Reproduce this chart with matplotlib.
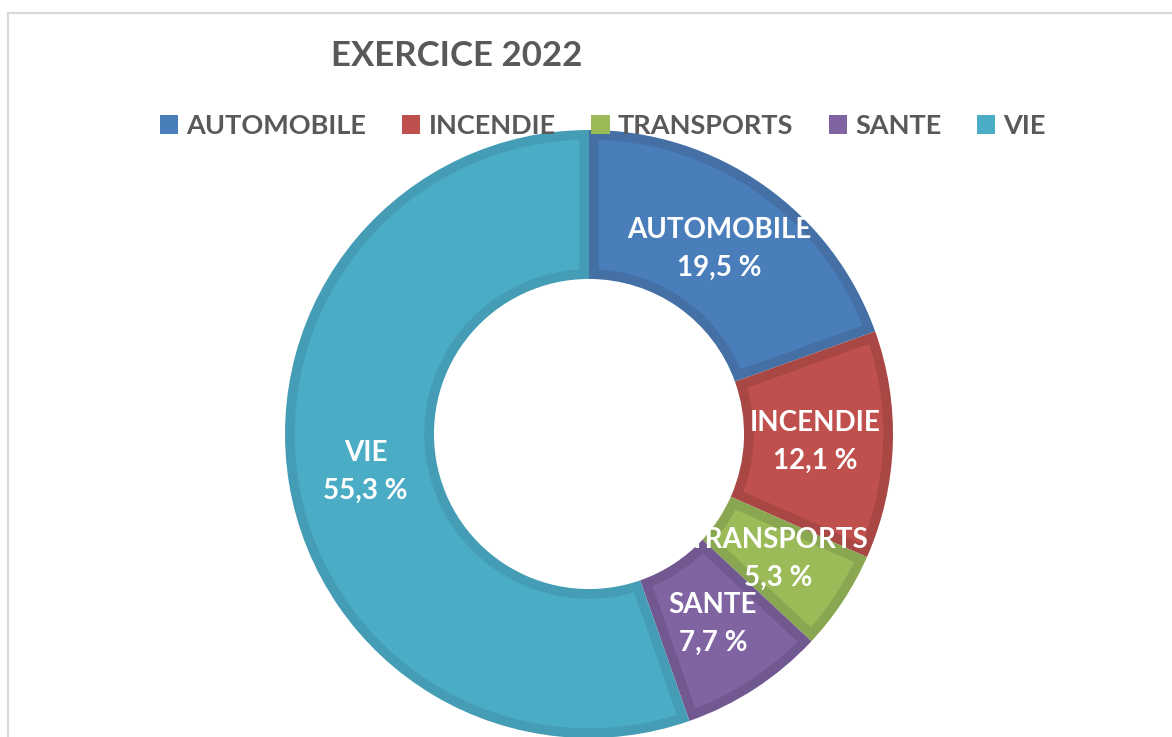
import numpy as np
import matplotlib
matplotlib.use("Agg")
import matplotlib.pyplot as plt
from matplotlib.patches import Rectangle, Patch, Polygon

# donnees
categories = ["AUTOMOBILE", "INCENDIE", "TRANSPORTS", "SANTE", "VIE"]
parts = [19.5, 12.1, 5.3, 7.7, 55.3]
labels_pct = ["19,5 %", "12,1 %", "5,3 %", "7,7 %", "55,3 %"]
faces = ["#4A7EBB", "#C0504D", "#9BBB59", "#8064A2", "#4BACC6"]
edges = ["#4470A6", "#A84744", "#89A650", "#715890", "#459DB5"]

plt.rcParams["font.family"] = ["Lato", "DejaVu Sans"]
W, H = 1172, 737
fig = plt.figure(figsize=(W / 100, H / 100), dpi=100)

# cadre gris clair
fig.patches.append(Rectangle((8 / W, -0.1), 1.2, 1 - 13 / H + 0.1, transform=fig.transFigure,
                             fill=False, edgecolor="#D9D9D9", linewidth=1.6))

cx, cy, R = 589, 434, 304
ring = 0.49
b = 0.032  # epaisseur de la bordure foncee
ax = fig.add_axes([(cx - R) / W, (H - cy - R) / H, 2 * R / W, 2 * R / H])
wedges, _ = ax.pie(parts, startangle=90, counterclock=False, radius=1, colors=edges,
                   wedgeprops=dict(width=ring, linewidth=0))

# partie claire, en retrait de la bordure
ro, ri = 1 - b, 1 - ring + b
for w, fc in zip(wedges, faces):
    t1, t2 = w.theta1, w.theta2
    ao = np.deg2rad(np.linspace(t1 + np.degrees(np.arcsin(b / ro)), t2 - np.degrees(np.arcsin(b / ro)), 120))
    ai = np.deg2rad(np.linspace(t2 - np.degrees(np.arcsin(b / ri)), t1 + np.degrees(np.arcsin(b / ri)), 120))
    pts = np.vstack([np.column_stack([ro * np.cos(ao), ro * np.sin(ao)]),
                     np.column_stack([ri * np.cos(ai), ri * np.sin(ai)])])
    ax.add_patch(Polygon(pts, closed=True, facecolor=fc, edgecolor="none"))

for w, name, pct in zip(wedges, categories, labels_pct):
    mid = np.deg2rad((w.theta1 + w.theta2) / 2)
    r = 0.745
    ax.text(r * np.cos(mid), r * np.sin(mid), name + "\n" + pct, ha="center", va="center",
            color="white", fontsize=20, fontweight="bold", linespacing=1.57)
ax.set_xlim(-1, 1)
ax.set_ylim(-1, 1)
ax.set_aspect("equal")
ax.axis("off")

fig.text(457 / W, 1 - 56 / H, "EXERCICE 2022", ha="center", va="center",
         fontsize=25, fontweight="bold", color="#595959")

handles = [Patch(facecolor=c, edgecolor="none") for c in faces]
fig.legend(handles, categories, loc="center", bbox_to_anchor=(603 / W, 1 - 126 / H), ncol=5,
           frameon=False, handlelength=0.67, handleheight=0.67, handletextpad=0.3,
           columnspacing=1.32, prop=dict(size=19.5, weight="bold"), labelcolor="#595959")

fig.savefig("out.png", dpi=100, facecolor="white")
